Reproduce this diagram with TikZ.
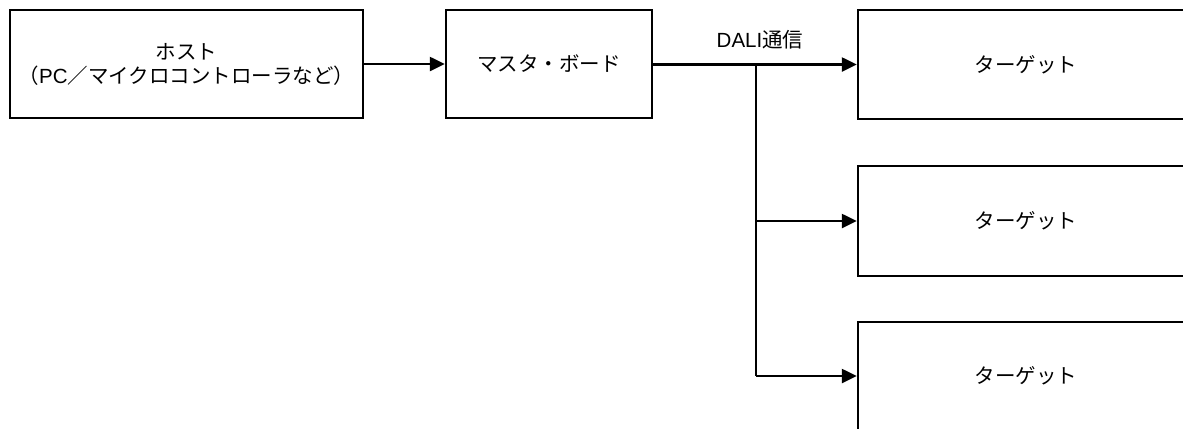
\documentclass[tikz,border=0pt]{standalone}
\usepackage{fontspec}
\setmainfont{Liberation Sans}
\newfontfamily\cjk{Noto Sans CJK JP}
\usetikzlibrary{arrows.meta}
\tikzset{
  box/.style={draw, line width=2.4bp, fill=white, inner sep=0pt, font=\fontsize{20.5bp}{24bp}\selectfont, align=center},
  conn/.style={line width=2.4bp},
  arr/.style={conn, -{Triangle[length=15bp,width=14bp]}},
}
\begin{document}
\begin{tikzpicture}[x=1bp,y=-1bp]
\useasboundingbox (0,0) rectangle (1183,428);
\clip (0,0) rectangle (1183,428);
\node[box, minimum width=353bp, minimum height=108bp] (host) at (186.5,64) {{\cjk ホスト}\\{\cjk （}PC{\cjk ／マイクロコントローラなど）}};
\node[box, minimum width=206bp, minimum height=108bp] (master) at (549,64) {\cjk マスタ・ボード};
\node[box, minimum width=336bp, minimum height=109bp] (t1) at (1026,64.5) {\cjk ターゲット};
\node[box, minimum width=336bp, minimum height=110bp] (t2) at (1026,221) {\cjk ターゲット};
\node[box, minimum width=336bp, minimum height=108bp] (t3) at (1026,376) {\cjk ターゲット};
\coordinate (br) at (756,64.5);
\draw[arr] (host.east) -- (master.west |- host.east);
\draw[arr] (master.east |- t1.west) -- (t1.west);
\draw[conn] (br) -- (br |- t3.west);
\draw[arr] (br |- t2.west) -- (t2.west);
\draw[arr] (br |- t3.west) -- (t3.west);
\node[font=\fontsize{20.5bp}{24bp}\selectfont] (lbl) at (760,40) {DALI{\cjk 通信}};
\end{tikzpicture}
\end{document}
